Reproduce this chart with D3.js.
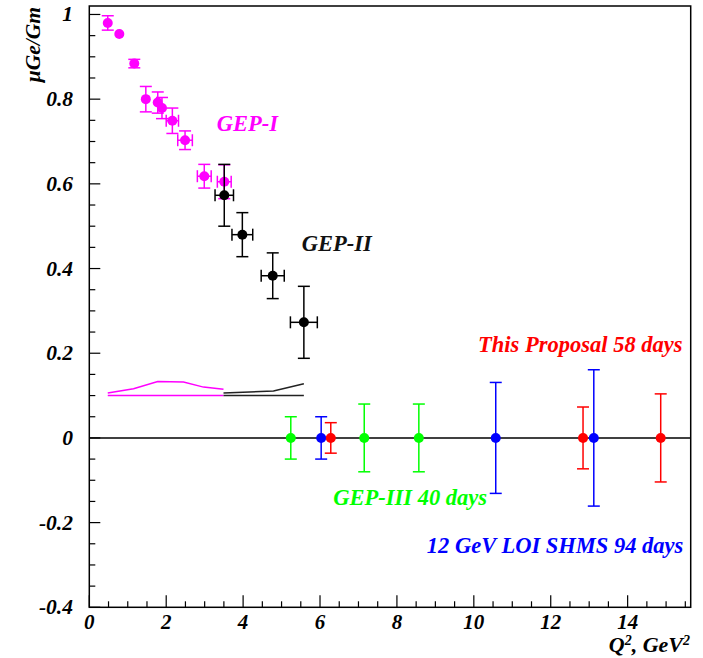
<!DOCTYPE html>
<html>
<head>
<meta charset="utf-8">
<script src="https://cdn.jsdelivr.net/npm/d3@7"></script>
<style>
  html, body { margin: 0; padding: 0; background: #fff; }
  svg { display: block; }
  text { font-family: "Liberation Serif", "Times New Roman", serif; font-weight: bold; font-style: italic; }
</style>
</head>
<body>
<svg id="chart" width="703" height="658"></svg>
<script>
// ---- data ----
// GEP-I (magenta): Q2, value, dy, dx
const gep1Q2  = [0.48, 0.78, 1.17, 1.47, 1.78, 1.89, 2.16, 2.49, 2.99, 3.51];
const gep1Val = [0.980, 0.954, 0.884, 0.800, 0.792, 0.779, 0.749, 0.703, 0.618, 0.605];
const gep1Err = [0.017, 0.0, 0.010, 0.030, 0.025, 0.025, 0.030, 0.022, 0.028, 0.040];
const gep1XErr = [0.0, 0.0, 0.0, 0.0, 0.0, 0.0, 0.16, 0.19, 0.18, 0.18];
// GEP-II (black)
const gep2Q2  = [3.51, 3.98, 4.77, 5.58];
const gep2Val = [0.573, 0.480, 0.383, 0.273];
const gep2Err = [0.073, 0.052, 0.054, 0.085];
const gep2XErr = [0.24, 0.27, 0.30, 0.35];
// Systematic error bands
const sys1Q2   = [0.48, 1.15, 1.78, 2.45, 2.97, 3.49];
const sys1Val  = [0.106, 0.116, 0.133, 0.132, 0.120, 0.115];
const sys1Base = [0.100, 0.100, 0.100, 0.100, 0.100, 0.100];
const sys2Q2   = [3.49, 4.79, 5.58];
const sys2Val  = [0.106, 0.111, 0.128];
const sys2Base = [0.100, 0.100, 0.100];
// Projections (value 0)
const gep3Q2  = [5.24, 7.15, 8.57];
const gep3Err = [0.050, 0.080, 0.080];
const loiQ2   = [6.03, 10.57, 13.12];
const loiErr  = [0.050, 0.131, 0.161];
const propQ2  = [6.28, 12.84, 14.86];
const propErr = [0.036, 0.073, 0.104];

const yTicks = [-0.4, -0.2, 0, 0.2, 0.4, 0.6, 0.8, 1];
const yTickLabels = ["-0.4", "-0.2", "0", "0.2", "0.4", "0.6", "0.8", "1"];
const xTicks = [0, 2, 4, 6, 8, 10, 12, 14];
const xTickLabels = ["0", "2", "4", "6", "8", "10", "12", "14"];

// ---- layout ----
const svg = d3.select("#chart");
const L = 89.3, R = 690.7, T = 6, B = 607.3;
const x = d3.scaleLinear().domain([0, 15.64]).range([L, R]);
const y = d3.scaleLinear().domain([-0.4, 1.02]).range([B, T]);

const MAGENTA = "#ff00ff", BLACK = "#000000", GREEN = "#00ff00", BLUE = "#0000ff", RED = "#ff0000";

// frame
svg.append("rect").attr("x", L).attr("y", T).attr("width", R - L).attr("height", B - T)
  .attr("fill", "none").attr("stroke", "#000").attr("stroke-width", 1.5);

// y ticks
const yMinor = d3.range(-0.4, 1.0001, 0.05).map(v => +v.toFixed(2));
svg.append("g").selectAll("line").data(yMinor).join("line")
  .attr("x1", L).attr("x2", d => L + (yTicks.some(t => Math.abs(t - d) < 1e-6) ? 11 : 6))
  .attr("y1", d => y(d)).attr("y2", d => y(d))
  .attr("stroke", "#000").attr("stroke-width", 1.2);
svg.append("g").selectAll("text").data(yTicks).join("text")
  .attr("x", 73).attr("y", d => y(d) + 7)
  .attr("text-anchor", "end").attr("font-size", 21.5)
  .text((d, i) => yTickLabels[i]);

// x ticks
const xMinor = d3.range(0, 15.6, 0.5);
svg.append("g").selectAll("line").data(xMinor).join("line")
  .attr("x1", d => x(d)).attr("x2", d => x(d))
  .attr("y1", B).attr("y2", d => B - (Math.abs(d / 2 - Math.round(d / 2)) < 1e-6 ? 12 : 6))
  .attr("stroke", "#000").attr("stroke-width", 1.2);
svg.append("g").selectAll("text").data(xTicks).join("text")
  .attr("x", d => x(d)).attr("y", 629)
  .attr("text-anchor", "middle").attr("font-size", 21)
  .text((d, i) => xTickLabels[i]);

// axis titles
svg.append("text").attr("transform", "translate(40,7) rotate(-90)")
  .attr("text-anchor", "end").attr("font-size", 21.5)
  .text("\u03BCGe/Gm");
const xt = svg.append("text").attr("x", 690).attr("y", 652).attr("text-anchor", "end").attr("font-size", 22);
xt.append("tspan").text("Q");
xt.append("tspan").attr("dy", -7).attr("font-size", 14).text("2");
xt.append("tspan").attr("dy", 7).text(",  GeV");
xt.append("tspan").attr("dy", -7).attr("font-size", 14).text("2");

// zero line
svg.append("line").attr("x1", L).attr("x2", R).attr("y1", y(0)).attr("y2", y(0))
  .attr("stroke", "#000").attr("stroke-width", 1.5);

// systematic bands
function band(q, v, base, color) {
  const line = d3.line().x(d => x(d[0])).y(d => y(d[1]));
  svg.append("path").attr("d", line(q.map((d, i) => [d, v[i]])))
    .attr("fill", "none").attr("stroke", color).attr("stroke-width", 1.5);
  svg.append("path").attr("d", line(q.map((d, i) => [d, base[i]])))
    .attr("fill", "none").attr("stroke", color).attr("stroke-width", 1.5);
}
band(sys1Q2, sys1Val, sys1Base, MAGENTA);
band(sys2Q2, sys2Val, sys2Base, "#222");

// error bars + markers
const CAP = 6, RAD = 5;
function series(q, v, dy, dx, color) {
  const g = svg.append("g");
  q.forEach((qq, i) => {
    const cx = x(qq), cy = y(v[i]);
    if (dy[i] > 0) {
      const y1 = y(v[i] + dy[i]), y2 = y(v[i] - dy[i]);
      g.append("line").attr("x1", cx).attr("x2", cx).attr("y1", y1).attr("y2", y2).attr("stroke", color).attr("stroke-width", 1.5);
      g.append("line").attr("x1", cx - CAP).attr("x2", cx + CAP).attr("y1", y1).attr("y2", y1).attr("stroke", color).attr("stroke-width", 1.5);
      g.append("line").attr("x1", cx - CAP).attr("x2", cx + CAP).attr("y1", y2).attr("y2", y2).attr("stroke", color).attr("stroke-width", 1.5);
    }
    if (dx && dx[i] > 0) {
      const x1 = x(qq - dx[i]), x2 = x(qq + dx[i]);
      g.append("line").attr("x1", x1).attr("x2", x2).attr("y1", cy).attr("y2", cy).attr("stroke", color).attr("stroke-width", 1.5);
      g.append("line").attr("x1", x1).attr("x2", x1).attr("y1", cy - CAP).attr("y2", cy + CAP).attr("stroke", color).attr("stroke-width", 1.5);
      g.append("line").attr("x1", x2).attr("x2", x2).attr("y1", cy - CAP).attr("y2", cy + CAP).attr("stroke", color).attr("stroke-width", 1.5);
    }
  });
  g.selectAll("circle").data(q).join("circle")
    .attr("cx", d => x(d)).attr("cy", (d, i) => y(v[i])).attr("r", RAD).attr("fill", color);
}
series(gep1Q2, gep1Val, gep1Err, gep1XErr, MAGENTA);
series(gep2Q2, gep2Val, gep2Err, gep2XErr, BLACK);
series(gep3Q2, gep3Q2.map(() => 0), gep3Err, null, GREEN);
series(loiQ2, loiQ2.map(() => 0), loiErr, null, BLUE);
series(propQ2, propQ2.map(() => 0), propErr, null, RED);

// labels
function label(t, xx, yy, anchor, color) {
  svg.append("text").attr("x", xx).attr("y", yy).attr("text-anchor", anchor)
    .attr("font-size", 22.5).attr("fill", color).text(t);
}
label("GEP-I", 216.7, 131, "start", MAGENTA);
label("GEP-II", 301.7, 251, "start", "#111");
label("This Proposal 58 days", 682.5, 352, "end", RED);
label("GEP-III 40 days", 333.3, 505, "start", GREEN);
label("12 GeV LOI SHMS 94 days", 683.3, 553, "end", BLUE);
</script>
</body>
</html>
